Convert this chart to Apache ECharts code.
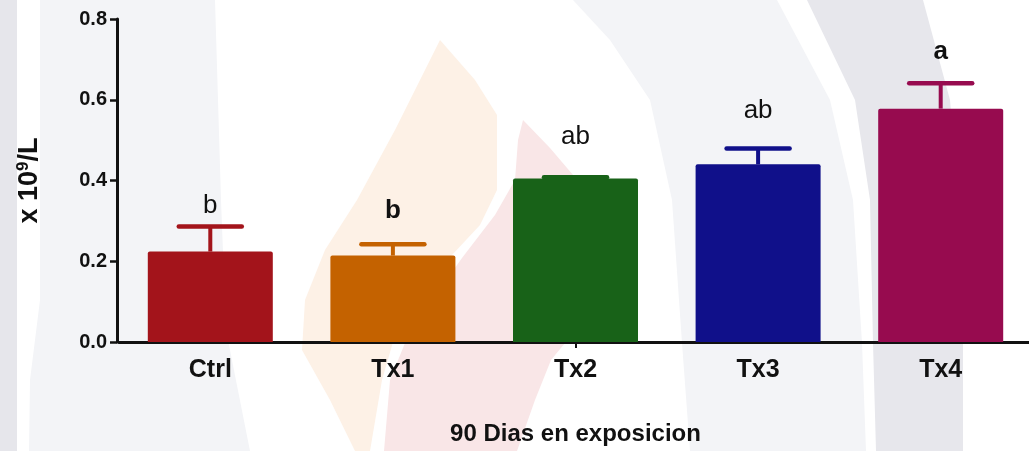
<!DOCTYPE html>
<html>
<head>
<meta charset="utf-8">
<title>90 Dias en exposicion</title>
<script src="https://cdn.jsdelivr.net/npm/echarts@6/dist/echarts.min.js"></script>
<style>
  html, body { margin: 0; padding: 0; background: #ffffff; }
  #chart { width: 1029px; height: 451px; }
</style>
</head>
<body>
<div id="chart"></div>
<script>
// Group names, mean values (x 10^9/L), SEM and significance letters
const categories = ['Ctrl', 'Tx1', 'Tx2', 'Tx3', 'Tx4'];
const means = [0.224, 0.214, 0.405, 0.440, 0.578];
const sems = [0.062, 0.028, 0.003, 0.039, 0.063];
const letters = ['b', 'b', 'ab', 'ab', 'a'];
const letterBold = [false, true, false, false, true];

// Styling
const barColors = ['#a3141b', '#c46200', '#186218', '#10108a', '#970b4f'];
const letterGap = [8, 20, 27, 25, 18];   // px between error cap and letter
const FONT = "'Liberation Sans', Arial, Helvetica, sans-serif";
const INK = '#111111';

// Faint background emblem shapes
const emblem = [
  { fill: '#e6e6eb', pts: [[0, 0], [17, 0], [17, 451], [0, 451]] },
  { fill: '#f3f4f7', pts: [[40, 0], [215, 0], [221, 200], [226, 330], [250, 451], [29, 451], [30, 380], [40, 300]] },
  { fill: '#fdf1e6', pts: [[440, 40], [475, 80], [497, 115], [497, 190], [480, 225], [452, 255], [420, 300], [393, 342], [382, 380], [370, 451], [355, 451], [330, 400], [302, 350], [305, 300], [325, 250], [357, 200], [395, 130], [420, 80]] },
  { fill: '#f9e6e7', pts: [[523, 120], [550, 148], [573, 175], [590, 230], [590, 300], [565, 343], [551, 360], [535, 400], [517, 451], [384, 451], [390, 380], [405, 343], [425, 310], [462, 258], [495, 215], [515, 180], [518, 140]] },
  { fill: '#f3f4f7', pts: [[573, 0], [777, 0], [830, 100], [853, 200], [862, 343], [866, 451], [690, 451], [682, 343], [672, 200], [650, 100], [610, 40]] },
  { fill: '#e7e7ec', pts: [[807, 0], [923, 0], [950, 100], [958, 200], [963, 343], [963, 451], [876, 451], [873, 343], [870, 200], [855, 100]] }
];

const chart = echarts.init(document.getElementById('chart'), null, { renderer: 'canvas' });

chart.setOption({
  backgroundColor: '#ffffff',
  animation: false,
  graphic: {
    elements: emblem.map(s => ({
      type: 'polygon',
      silent: true,
      z: -10,
      shape: { points: s.pts },
      style: { fill: s.fill }
    }))
  },
  grid: { left: 119, top: 19, width: 913, height: 323, outerBoundsMode: 'none' },
  xAxis: {
    type: 'category',
    data: categories,
    axisLine: { show: true, lineStyle: { color: INK, width: 3 } },
    axisTick: {
      show: true, alignWithLabel: true, length: 6,
      interval: idx => idx === 2,
      lineStyle: { color: INK, width: 2 }
    },
    axisLabel: { fontFamily: FONT, fontSize: 25, fontWeight: 'bold', color: INK, margin: 16 },
    name: '90 Dias en exposicion',
    nameLocation: 'middle',
    nameGap: 80,
    nameTextStyle: { fontFamily: FONT, fontSize: 24, fontWeight: 'bold', color: INK }
  },
  yAxis: {
    type: 'value',
    min: 0,
    max: 0.8,
    interval: 0.2,
    offset: 2,
    splitLine: { show: false },
    axisLine: { show: true, lineStyle: { color: INK, width: 3 } },
    axisTick: { show: true, length: 7, lineStyle: { color: INK, width: 2.5 } },
    axisLabel: {
      fontFamily: FONT, fontSize: 20, fontWeight: 'bold', color: INK, margin: 10,
      formatter: v => v.toFixed(1)
    },
    name: 'x 10{sup|9}/L',
    nameLocation: 'middle',
    nameRotate: 90,
    nameGap: 73,
    nameTextStyle: {
      fontFamily: FONT, fontSize: 27, fontWeight: 'bold', color: INK,
      rich: {
        sup: { fontFamily: FONT, fontSize: 17, fontWeight: 'bold', color: INK, verticalAlign: 'top', padding: [0, 0, 12, 0] }
      }
    }
  },
  series: [
    {
      type: 'bar',
      barWidth: 125,
      z: 2,
      data: means.map((v, i) => ({ value: v, itemStyle: { color: barColors[i], borderRadius: [2, 2, 0, 0] } }))
    },
    {
      // upper error bars (mean + SEM)
      type: 'custom',
      z: 3,
      data: means.map((v, i) => [i, v, v + sems[i]]),
      encode: { x: 0, y: [1, 2] },
      renderItem: (params, api) => {
        const i = api.value(0);
        const base = api.coord([i, api.value(1)]);
        const top = api.coord([i, api.value(2)]);
        const color = barColors[params.dataIndex];
        const half = 31.5;
        return {
          type: 'group',
          children: [
            { type: 'line', shape: { x1: base[0], y1: base[1], x2: top[0], y2: top[1] },
              style: { stroke: color, lineWidth: 4 } },
            { type: 'line', shape: { x1: top[0] - half, y1: top[1], x2: top[0] + half, y2: top[1] },
              style: { stroke: color, lineWidth: 4.5, lineCap: 'round' } }
          ]
        };
      }
    },
    {
      // significance letters above the error bars
      type: 'custom',
      z: 4,
      data: means.map((v, i) => [i, v + sems[i]]),
      encode: { x: 0, y: 1 },
      renderItem: (params, api) => {
        const k = params.dataIndex;
        const p = api.coord([api.value(0), api.value(1)]);
        return {
          type: 'text',
          x: p[0],
          y: p[1] - letterGap[k],
          style: {
            text: letters[k],
            fontFamily: FONT,
            fontSize: 26,
            fontWeight: letterBold[k] ? 'bold' : 'normal',
            fill: INK,
            align: 'center',
            verticalAlign: 'bottom'
          }
        };
      }
    }
  ]
});
</script>
</body>
</html>
